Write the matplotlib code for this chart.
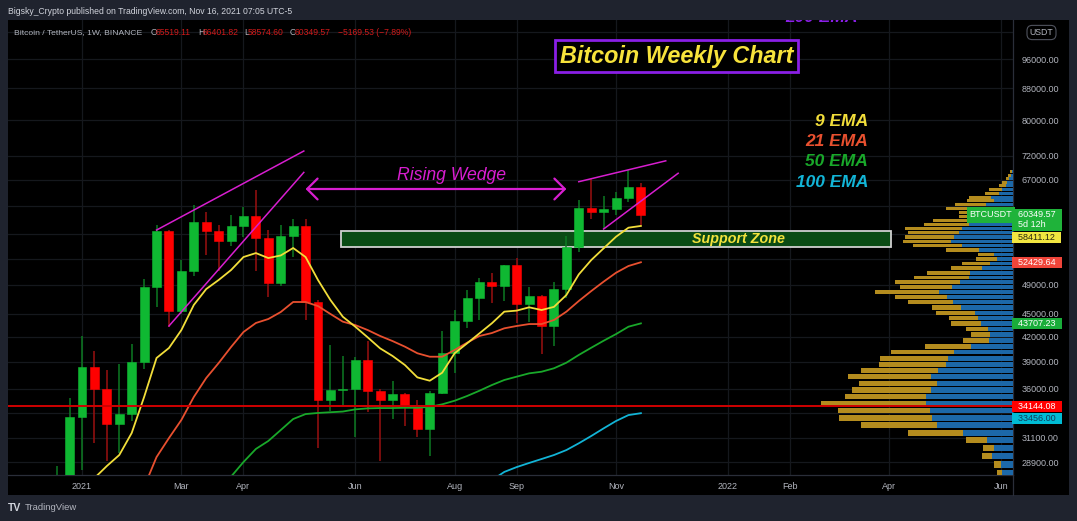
import pandas as pd
import matplotlib
matplotlib.use("Agg")
import matplotlib.pyplot as plt
from matplotlib.patches import Rectangle
from matplotlib.lines import Line2D
from matplotlib.ticker import FixedLocator, NullLocator

plt.rcParams['font.family'] = ['Liberation Sans', 'DejaVu Sans']

# BTC/USDT weekly candles (Binance)
first_week = "2020-12-21"
opens = [23800, 26250, 33080, 38390, 35950, 32400, 33370, 38930, 48750, 57590,
         45300, 51130, 59100, 57550, 55900, 58410, 60170, 56300, 49250, 56740,
         58410, 46630, 34810, 35820, 35950, 39200, 35760, 34830, 35410, 34270,
         31920, 35550, 39990, 44010, 47140, 49440, 48850, 51960, 46250, 47420,
         43370, 48380, 54910, 61670, 60950, 61400, 63420, 65519.11]
highs = [28600, 35000, 42100, 40260, 38050, 38730, 41110, 49820, 58570, 57700,
         52770, 62100, 60830, 58570, 60350, 61750, 65000, 57710, 58570, 59630,
         59630, 46900, 40980, 39670, 39580, 41510, 35960, 36820, 35500, 34810,
         35760, 42730, 45480, 48290, 49970, 50750, 52000, 53050, 48700, 47600,
         49440, 56740, 63100, 67100, 63920, 64570, 69000, 66401.82]
lows = [22400, 26000, 28250, 30610, 29040, 29720, 32660, 38210, 45850, 43300,
        45000, 50290, 53500, 51110, 55030, 56500, 51110, 47230, 48850, 53180,
        44150, 30190, 33690, 34240, 31190, 33600, 29020, 32880, 32160, 31190,
        29450, 35400, 37690, 43060, 44150, 46500, 46760, 43700, 43870, 39870,
        40920, 47090, 54000, 59650, 57830, 60300, 62800, 58574.60]
closes = [26250, 33080, 38390, 35950, 32400, 33370, 38930, 48750, 57590, 45300,
          51130, 59100, 57550, 55900, 58410, 60170, 56300, 49250, 56740, 58410,
          46630, 34810, 35820, 35950, 39200, 35760, 34830, 35410, 34270, 31920,
          35550, 39990, 44010, 47140, 49440, 48850, 51960, 46250, 47420, 43370,
          48380, 54910, 61670, 60950, 61400, 63420, 65519.11, 60349.57]

# EMA lines, each list ends on the last candle
ema9 = [27580, 28590, 29540, 31540, 35110, 39430, 40620, 42850, 46170, 48410,
        49730, 51230, 53250, 53880, 53090, 53500, 54700, 53250, 49730, 46860,
        44580, 43280, 41930, 40580, 39670, 38610, 37220, 36850, 37740, 39990,
        41180, 42430, 43720, 45260, 45400, 45850, 45480, 45910, 47560, 50570,
        52770, 54650, 56570, 58110, 58411.12]
ema21 = [26860, 29360, 31070, 32790, 35110, 37150, 38840, 40740, 42600, 43760,
         44280, 45210, 46580, 46580, 46020, 44950, 43930, 43490, 42850, 42100,
         41470, 40780, 39990, 39580, 39580, 40380, 41260, 42100, 42470, 43070,
         43370, 43620, 43620, 44150, 45260, 46720, 48120, 49490, 50820, 51850,
         52429.64]
ema50 = [27700, 28930, 30080, 30800, 31820, 32880, 33370, 33480, 33550, 33620,
         33840, 33940, 33970, 33970, 34000, 34000, 34100, 34350, 34720, 35210,
         35770, 36380, 36930, 37300, 37670, 37850, 38240, 38880, 39790, 40650,
         41510, 42340, 43280, 43707.23]
ema100 = [27400, 28090, 28500, 28850, 29190, 29540, 29980, 30590, 31260, 31980,
          32690, 33270, 33456.00]

# visible-range volume profile, rows from the top (up = blue, down = gold)
vp_top = 68650
vp_step = 713
vp_up = [4, 7, 12, 17, 22, 32, 42, 67, 57, 82, 97, 107, 107, 109, 132, 152, 162,
         177, 187, 152, 102, 57, 47, 69, 94, 129, 132, 160, 182, 222, 197, 179,
         157, 115, 105, 97, 75, 69, 72, 127, 177, 195, 200, 225, 247, 227, 245,
         260, 262, 250, 242, 227, 149, 77, 57, 62, 37, 32]
vp_down = [6, 7, 10, 15, 20, 40, 43, 65, 80, 93, 105, 55, 55, 130, 135, 173, 152,
           148, 143, 148, 98, 48, 64, 83, 92, 128, 165, 194, 157, 192, 157, 137,
           87, 117, 88, 90, 66, 58, 77, 138, 190, 203, 203, 230, 247, 235, 237,
           245, 315, 275, 280, 228, 167, 65, 32, 31, 20, 17]

poc_price = 34144.08
price_ticks = [28900, 31100, 33500, 36000, 39000, 42000, 45000, 49000, 53000,
               57000, 62000, 67000, 72000, 80000, 88000, 96000, 104000]
# these tick labels sit under the price tags / currency pill
hidden_ticks = [33500, 53000, 57000, 62000, 104000]
time_ticks = ["2021-01-04", "2021-03-01", "2021-04-05", "2021-06-07", "2021-08-02",
              "2021-09-06", "2021-11-01", "2022-01-03", "2022-02-07", "2022-04-04",
              "2022-06-06"]
time_labels = ["2021", "Mar", "Apr", "Jun", "Aug", "Sep", "Nov", "2022", "Feb",
               "Apr", "Jun"]

BASE = pd.Timestamp("2021-01-04")


def wx(d):
    # week number counted from the 2021 label
    return (pd.Timestamp(d) - BASE).days / 7


GRID = '#15181d'
AXTXT = '#b2b5be'
W, H = 1077, 521


def fx(px):
    return px / W


def fy(py):
    return 1 - py / H


fig = plt.figure(figsize=(W / 100, H / 100), dpi=100, facecolor='#1f232e')
fig.patches.append(Rectangle((fx(7.5), fy(495)), fx(1069) - fx(7.5), fy(20) - fy(495),
                             transform=fig.transFigure, fc='black', ec='none', zorder=-5))

ax = fig.add_axes([fx(7.5), fy(475), fx(1013) - fx(7.5), fy(20) - fy(475)])
ax.set_facecolor('black')
ax.set_yscale('log')
ax.set_ylim(27835, 107815)
ax.set_xlim(-6.0, 74.96)
ax.set_axisbelow(True)

weeks = pd.date_range(first_week, periods=len(closes), freq='7D')
xs = [wx(d) for d in weeks]

# candles
for x, o, h, l, c in zip(xs, opens, highs, lows, closes):
    up = c >= o
    body = '#0fb832' if up else '#ff0000'
    wick = '#0c7a22' if up else '#9a1010'
    ax.vlines(x, l, h, color=wick, lw=1.1, zorder=3)
    ax.bar(x, abs(c - o), bottom=min(o, c), width=0.72, color=body,
           edgecolor=body, lw=0.4, zorder=4)

# EMAs
for vals, col in [(ema100, '#12b4d6'), (ema50, '#19a82a'),
                  (ema21, '#e8502f'), (ema9, '#f2de3a')]:
    ax.plot(xs[-len(vals):], vals, color=col, lw=1.3, zorder=5)

# axes styling
ax.yaxis.set_major_locator(FixedLocator(price_ticks))
ax.yaxis.set_minor_locator(NullLocator())
ax.set_yticklabels(['' if p in hidden_ticks else f"{p:.2f}" for p in price_ticks])
ax.set_xticks([wx(d) for d in time_ticks])
ax.set_xticklabels(time_labels)
ax.tick_params(axis='y', which='both', left=False, right=True, labelleft=False,
               labelright=True, length=0, pad=6, labelsize=6.5, labelcolor=AXTXT)
ax.tick_params(axis='x', length=0, pad=5, labelsize=6.5, labelcolor=AXTXT)
ax.grid(True, color=GRID, lw=0.9)
for s in ['top', 'left']:
    ax.spines[s].set_visible(False)
for s in ['bottom', 'right']:
    ax.spines[s].set_color('#2a2e39')
    ax.spines[s].set_linewidth(0.9)

# drawings
ax.add_patch(Rectangle((wx('2021-05-30'), 54860), wx('2022-04-05') - wx('2021-05-30'),
                       57520 - 54860, fc='#0a4b14', ec='#d0d0d0', lw=1.3, zorder=2))
ax.text(wx('2022-01-09'), 56190, 'Support Zone', ha='center', va='center',
        color='#f2e23c', fontsize=10.3, fontweight='bold', style='italic', zorder=6)

wedge = '#d81ed0'
ax.plot([wx('2021-02-15'), wx('2021-05-09')], [57700, 73000], color=wedge, lw=1.1, zorder=6)
ax.plot([wx('2021-02-22'), wx('2021-05-09')], [43370, 68500], color=wedge, lw=1.1, zorder=6)
ax.plot([wx('2021-10-11'), wx('2021-11-29')], [66630, 70900], color=wedge, lw=1.1, zorder=6)
ax.plot([wx('2021-10-25'), wx('2021-12-06')], [57880, 68330], color=wedge, lw=1.1, zorder=6)
ax.annotate('', xy=(wx('2021-05-10'), 65200), xytext=(wx('2021-10-04'), 65200),
            arrowprops=dict(arrowstyle='<->,head_length=0.75,head_width=0.75',
                            color=wedge, lw=1.6, shrinkA=0, shrinkB=0), zorder=6)
ax.text(wx('2021-07-31'), 67870, 'Rising Wedge', ha='center', va='center',
        color=wedge, fontsize=12.7, style='italic', zorder=6)

ax.text(wx('2021-12-05'), 96860, 'Bitcoin Weekly Chart', ha='center', va='center',
        color='#f7e33b', fontsize=16.8, fontweight='bold', style='italic', zorder=7,
        bbox=dict(boxstyle='square,pad=0.2', fc='black', ec='#8a1fe6', lw=2))
# a label sitting just above the visible price range, only its foot shows
t200 = ax.text(wx('2022-02-25'), 107170, '200 EMA', ha='center', va='baseline',
               color='#8a1fe6', fontsize=12.5, fontweight='bold', style='italic')
t200.set_clip_box(ax.bbox)
t200.set_clip_on(True)

for label, y, col in [('9 EMA', 79590, '#f2de3a'), ('21 EMA', 75100, '#e8502f'),
                      ('50 EMA', 70660, '#19a82a'), ('100 EMA', 66470, '#12b4d6')]:
    ax.text(wx('2022-03-23'), y, label, ha='right', va='center', color=col,
            fontsize=12.5, fontweight='bold', style='italic', zorder=6)

# volume profile on a twin axis
ax2 = ax.twiny()
ax2.set_xlim(3015, 0)
ax2.xaxis.set_visible(False)
for s in ax2.spines.values():
    s.set_visible(False)
centers = [vp_top - k * vp_step for k in range(len(vp_up))]
ax2.barh(centers, vp_up, height=vp_step * 0.8, left=0, color='#1c68a8', zorder=2)
ax2.barh(centers, vp_down, height=vp_step * 0.8, left=vp_up, color='#b48c1e', zorder=2)
ax2.axhline(poc_price, color='#d00000', lw=1.4, zorder=3)

# price tags on the axis
tr = ax2.get_yaxis_transform()
tag_font = dict(fontsize=6.5, annotation_clip=False, zorder=10, xycoords=tr,
                textcoords='offset points')
ax2.annotate('BTCUSDT', xy=(1, closes[-1]), xytext=(-0.5, 0), ha='right', va='center',
             color='white', bbox=dict(boxstyle='square,pad=0.35', fc='#1fb33a', ec='none'),
             **tag_font)
tags = [
    ('  %.2f  \n  5d 12h' % closes[-1], closes[-1], '#1fb33a', 'white', -3.3),
    ('  %.2f  ' % ema9[-1], ema9[-1], '#f2e640', '#2a2a10', -8.4),
    ('  %.2f  ' % ema21[-1], ema21[-1], '#f0453a', 'white', 0),
    ('  %.2f  ' % ema50[-1], ema50[-1], '#19ad3a', 'white', 0),
    ('  %.2f  ' % poc_price, poc_price, '#ff0000', 'white', 0),
    ('  %.2f  ' % ema100[-1], ema100[-1], '#00bcd4', '#113a5c', -3.6),
]
for txt, val, fc, tc, dy in tags:
    ax2.annotate(txt, xy=(1, val), xytext=(0, dy), ha='left', va='center',
                 color=tc, linespacing=1.25,
                 bbox=dict(boxstyle='square,pad=0.12', fc=fc, ec='none'), **tag_font)

# panel separators
fig.add_artist(Line2D([fx(1013), fx(1013)], [fy(475), fy(495)], color='#2a2e39', lw=0.9))
fig.text(fx(1041.5), fy(32.5), 'USDT', ha='center', va='center', fontsize=6.3,
         color=AXTXT, bbox=dict(boxstyle='round,pad=0.3,rounding_size=0.6',
                                fc='black', ec='#50535e', lw=0.8))

# header texts
fig.text(fx(7.6), fy(11.5), 'Bigsky_Crypto published on TradingView.com, Nov 16, 2021 07:05 UTC-5',
         ha='left', va='center', fontsize=6.2, color='#d1d4dc')
legend_parts = [
    (13.8, 'Bitcoin / TetherUS, 1W, BINANCE', AXTXT, 6.1),
    (150.5, 'O', AXTXT, 6.2), (155.6, '%.2f' % opens[-1], '#d11a1a', 6.2),
    (198, 'H', AXTXT, 6.2), (203, '%.2f' % highs[-1], '#d11a1a', 6.2),
    (244.5, 'L', AXTXT, 6.2), (248, '%.2f' % lows[-1], '#d11a1a', 6.2),
    (290, 'C', AXTXT, 6.2), (295, '%.2f' % closes[-1], '#d11a1a', 6.2),
    (337.5, '\u22125169.53 (\u22127.89%)', '#d11a1a', 6.2),
]
for px, txt, col, fs in legend_parts:
    fig.text(fx(px), fy(32.3), txt, ha='left', va='center', fontsize=fs, color=col)

fig.text(fx(8), fy(508), 'TV', ha='left', va='center', fontsize=7.5,
         fontweight='bold', color='#d1d4dc')
fig.text(fx(25), fy(508), 'TradingView', ha='left', va='center', fontsize=6.8, color='#b2b5be')

fig.savefig('out.png', dpi=100, facecolor=fig.get_facecolor())
